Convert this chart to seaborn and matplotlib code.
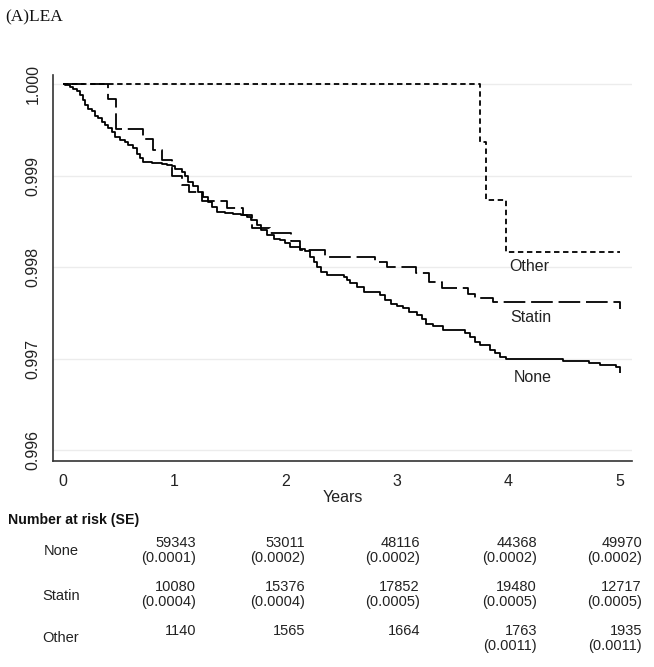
import numpy as np
import pandas as pd
import matplotlib
matplotlib.use("Agg")
import matplotlib.pyplot as plt
import seaborn as sns

sns.set_style("white")
plt.rcParams['font.family'] = ['Liberation Sans', 'DejaVu Sans']

# ---- data ----
none_t = [0.0, 0.018, 0.063, 0.093, 0.123, 0.153, 0.18, 0.197, 0.227, 0.257, 0.287, 0.317,
          0.347, 0.377, 0.407, 0.437, 0.467, 0.512, 0.557, 0.586, 0.631, 0.662, 0.691, 0.721,
          0.796, 0.886, 0.93, 0.975, 1.005, 1.07, 1.095, 1.125, 1.17, 1.21, 1.26, 1.30,
          1.335, 1.38, 1.455, 1.53, 1.60, 1.65, 1.69, 1.74, 1.78, 1.83, 1.89, 1.95, 1.99,
          2.04, 2.13, 2.17, 2.22, 2.25, 2.28, 2.32, 2.37, 2.52, 2.55, 2.58, 2.64, 2.70,
          2.85, 2.89, 2.94, 3.0, 3.05, 3.11, 3.18, 3.22, 3.26, 3.32, 3.41, 3.61, 3.65,
          3.70, 3.74, 3.83, 3.88, 3.92, 3.98, 4.49, 4.72, 4.82, 4.96, 5.0]
none_s = [1.0, 0.99999, 0.99997, 0.99995, 0.99992, 0.99988, 0.99983, 0.99977, 0.99973,
          0.99970, 0.99965, 0.99963, 0.99959, 0.99955, 0.99952, 0.99948, 0.99942, 0.99939,
          0.99937, 0.99933, 0.99930, 0.99924, 0.99919, 0.99915, 0.99914, 0.99913, 0.99911,
          0.99910, 0.99907, 0.99904, 0.99899, 0.99893, 0.99888, 0.99882, 0.99877, 0.99871,
          0.99866, 0.99860, 0.99859, 0.99858, 0.99857, 0.99855, 0.99851, 0.99846, 0.99840,
          0.99835, 0.99831, 0.99830, 0.99826, 0.99822, 0.99820, 0.99817, 0.99811, 0.99806,
          0.99800, 0.99795, 0.99791, 0.99789, 0.99786, 0.99782, 0.99778, 0.99773, 0.99769,
          0.99764, 0.99760, 0.99757, 0.99755, 0.99751, 0.99748, 0.99743, 0.99738, 0.99736,
          0.99731, 0.99728, 0.99724, 0.99718, 0.99715, 0.99709, 0.99706, 0.99702, 0.99700,
          0.99697, 0.99695, 0.99693, 0.99691, 0.99684]

statin_t = [0.0, 0.40, 0.476, 0.715, 0.805, 0.89, 0.975, 1.07, 1.13, 1.25, 1.47, 1.62, 1.70,
            1.86, 2.05, 2.13, 2.35, 2.80, 2.91, 3.17, 3.29, 3.40, 3.64, 3.70, 3.86, 5.0]
statin_s = [1.0, 0.99984, 0.99951, 0.99940, 0.99928, 0.99917, 0.99899, 0.99890, 0.99882,
            0.99872, 0.99864, 0.99857, 0.99843, 0.99837, 0.99828, 0.99819, 0.99811, 0.99805,
            0.99800, 0.99794, 0.99784, 0.99777, 0.99771, 0.99766, 0.99762, 0.99754]

other_t = [0.0, 3.74, 3.80, 3.98, 5.0]
other_s = [1.0, 0.99937, 0.99873, 0.99816, 0.99816]

groups = ["None", "Statin", "Other"]
risk_n = {
    "None": ["59343", "53011", "48116", "44368", "49970"],
    "Statin": ["10080", "15376", "17852", "19480", "12717"],
    "Other": ["1140", "1565", "1664", "1763", "1935"],
}
risk_se = {
    "None": ["(0.0001)", "(0.0002)", "(0.0002)", "(0.0002)", "(0.0002)"],
    "Statin": ["(0.0004)", "(0.0004)", "(0.0005)", "(0.0005)", "(0.0005)"],
    "Other": ["", "", "", "(0.0011)", "(0.0011)"],
}
x_ticks = [0, 1, 2, 3, 4, 5]
y_ticks = [0.996, 0.997, 0.998, 0.999, 1.000]

W, H = 654, 667
fig = plt.figure(figsize=(W / 100, H / 100), dpi=100)
ax = fig.add_axes([53 / W, 1 - 461 / H, (632 - 53) / W, (461 - 75) / H])

curves = {
    "None": (none_t, none_s, (0, ())),
    "Statin": (statin_t, statin_s, (0, (12, 3.2))),
    "Other": (other_t, other_s, (0, (3.0, 2.0))),
}
for g in groups:
    t, s, ls = curves[g]
    df = pd.DataFrame({"t": t, "s": s})
    sns.lineplot(data=df, x="t", y="s", ax=ax, color="black", lw=1.3,
                 drawstyle="steps-post", estimator=None, sort=False)
    ax.lines[-1].set_linestyle(ls)

ax.set_xlim(-0.09, 5.108)
ax.set_ylim(0.99588, 1.0000984)
ax.set_yticks(y_ticks)
ax.set_yticklabels([f"{v:.3f}" for v in y_ticks], rotation=90, va="center")
ax.set_xticks(x_ticks)
ax.set_xticklabels([str(v) for v in x_ticks])
for v in y_ticks:
    ax.axhline(v, color="#ececec", lw=1.0, zorder=0)

for sp in ["top", "right"]:
    ax.spines[sp].set_visible(False)
for sp in ["left", "bottom"]:
    ax.spines[sp].set_color("#333333")
    ax.spines[sp].set_linewidth(1.2)
ax.tick_params(axis="both", direction="out", length=5, width=1.2, color="#333333",
               labelsize=11.5, labelcolor="#222222", pad=4)
ax.set_xlabel("Years", fontsize=11.5, labelpad=1, color="#222222")
ax.set_ylabel("")

# curve labels
ax.text(4.19, 0.99801, "Other", fontsize=11.5, ha="center", va="center", color="#222222")
ax.text(4.20, 0.99745, "Statin", fontsize=11.5, ha="center", va="center", color="#222222")
ax.text(4.22, 0.99679, "None", fontsize=11.5, ha="center", va="center", color="#222222")

# title
fig.text(5 / W, 1 - 17 / H, "(A)LEA", fontsize=12.5, family=["Liberation Serif"],
         ha="left", va="center", color="#111111")

# risk table
fig.text(8 / W, 1 - 520 / H, "Number at risk (SE)", fontsize=10.2, fontweight="bold",
         ha="left", va="center", color="#111111")
col_x = [196, 305, 420, 537, 642]
row_label_y = {"None": 551, "Statin": 596, "Other": 638}
row_n_y = {"None": 543, "Statin": 587, "Other": 631}
for g in groups:
    fig.text(61 / W, 1 - row_label_y[g] / H, g, fontsize=10.5, ha="center", va="center",
             color="#222222")
    for i, cx in enumerate(col_x):
        fig.text(cx / W, 1 - row_n_y[g] / H, risk_n[g][i], fontsize=10.5, ha="right",
                 va="center", color="#222222")
        if risk_se[g][i]:
            fig.text(cx / W, 1 - (row_n_y[g] + 15) / H, risk_se[g][i], fontsize=10.5,
                     ha="right", va="center", color="#222222")

fig.savefig("out.png", dpi=100, facecolor="white")
